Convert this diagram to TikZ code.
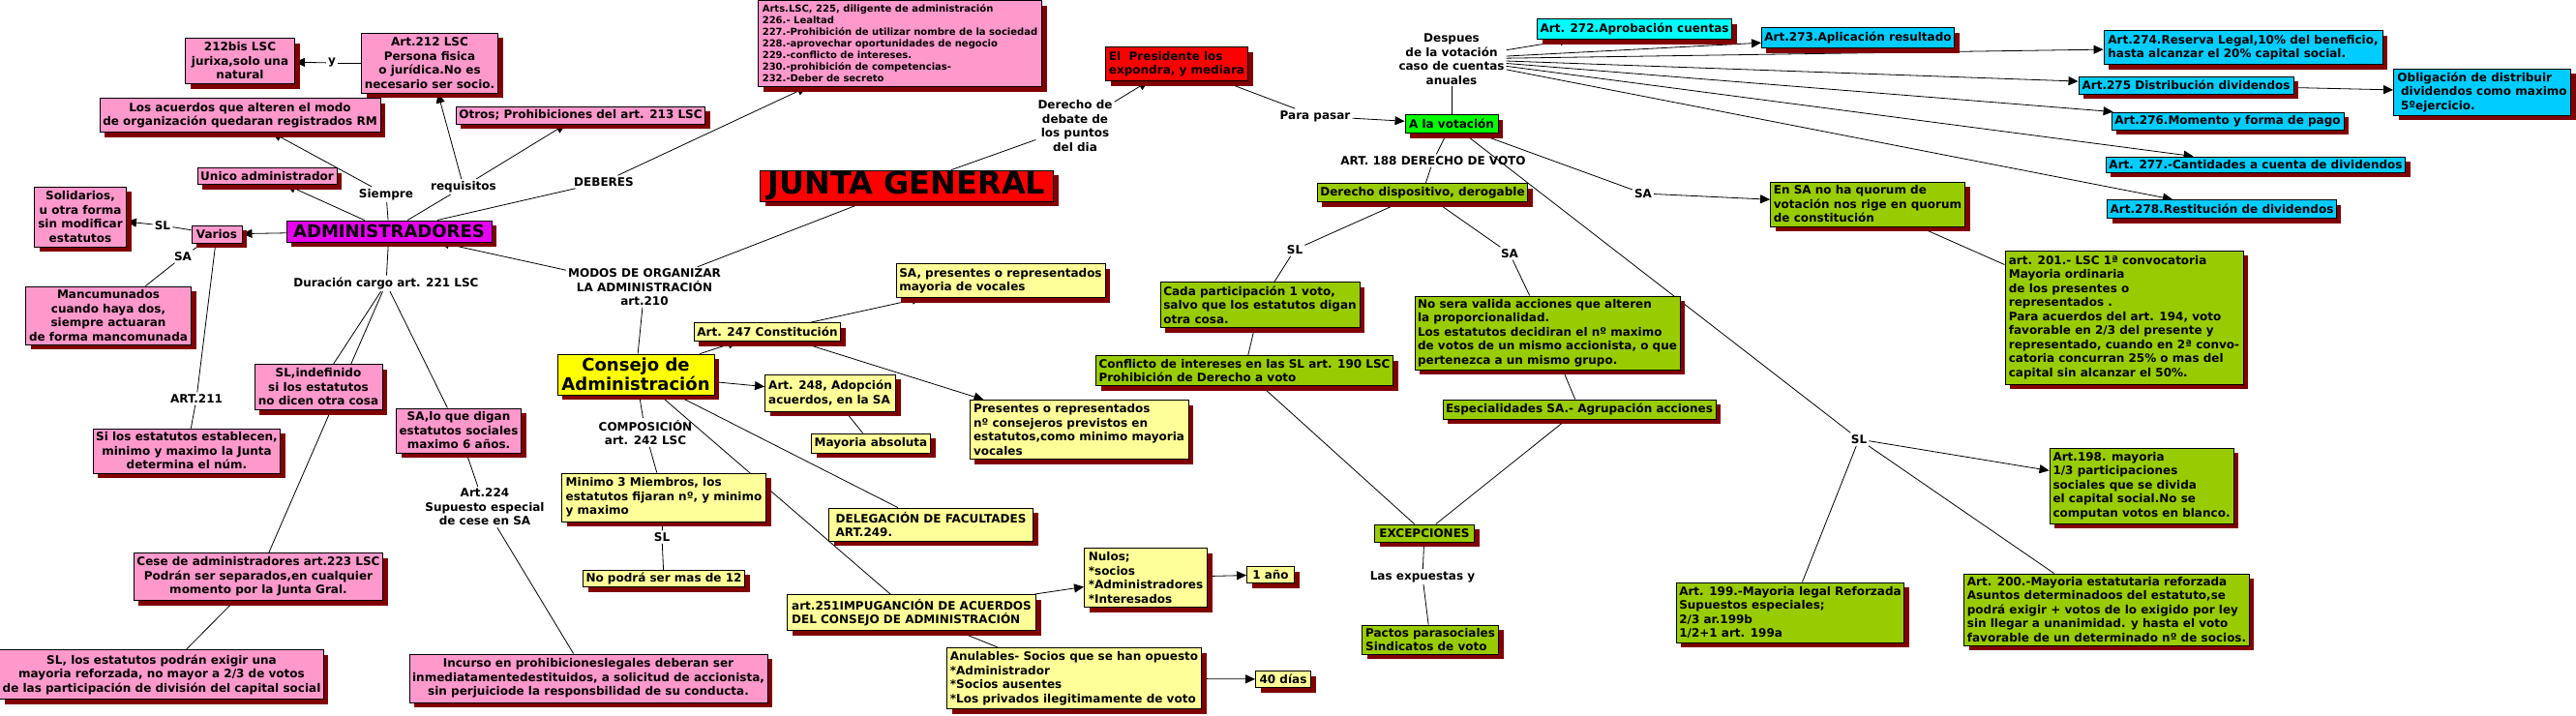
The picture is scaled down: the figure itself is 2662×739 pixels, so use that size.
\documentclass[tikz,border=0pt]{standalone}
\usepackage{fontspec}
\setmainfont{DejaVu Sans}
\usetikzlibrary{arrows.meta,shadows,backgrounds}
\definecolor{cpink}{HTML}{FF99CC}
\definecolor{cmag}{HTML}{E600F0}
\definecolor{cred}{HTML}{FF0000}
\definecolor{cyellow}{HTML}{FFFF00}
\definecolor{clyellow}{HTML}{FFFF99}
\definecolor{cgreen}{HTML}{99CC00}
\definecolor{cbgreen}{HTML}{00FF00}
\definecolor{ccyan}{HTML}{00FFFF}
\definecolor{cblue}{HTML}{00CCFF}
\definecolor{cshadow}{HTML}{800000}
\tikzset{
  base/.style={font=\bfseries\fontsize{12}{14.5}\selectfont, text=black},
  box/.style={base, draw=black, line width=0.9pt, inner xsep=3pt, inner ysep=2.5pt,
    drop shadow={shadow xshift=5pt, shadow yshift=-5pt, fill=cshadow, opacity=1}},
  pinkbox/.style={box, fill=cpink, align=center},
  ylbox/.style={box, fill=clyellow, align=left},
  grbox/.style={box, fill=cgreen, align=left},
  blbox/.style={box, fill=cblue, align=left},
  lab/.style={base, align=center, inner sep=2pt},
  con/.style={draw=black, line width=0.8pt},
  arr/.style={con, -{Triangle[length=10pt,width=9pt]}},
}
\begin{document}
\begin{tikzpicture}[x=1pt,y=-1pt]
\useasboundingbox (0,0) rectangle (2662,739);
\begin{scope}[on background layer]
\fill[white] (0,0) rectangle (2662,739);
\end{scope}

% ---------- linking phrases ----------
\node[lab] (ly) at (343,65) {y};
\node[lab] (lsiempre) at (399,201) {Siempre};
\node[lab] (lreq) at (479,193) {requisitos};
\node[lab] (ldeb) at (624,188) {DEBERES};
\node[lab] (lsl1) at (168,233) {SL};
\node[lab] (lsa1) at (189,265) {SA};
\node[lab] (l211) at (203,412) {ART.211};
\node[lab] (ldur) at (399,293) {Duración cargo art. 221 LSC};
\node[lab] (l224) at (501,524) {Art.224\\Supuesto especial\\de cese en SA};
\node[lab] (lmodos) at (666,297) {MODOS DE ORGANIZAR\\LA ADMINISTRACIÓN\\art.210};
\node[lab] (lcomp) at (667,447) {COMPOSICIÓN\\art. 242 LSC};
\node[lab] (lsl2) at (684,555) {SL};
\node[lab] (lder) at (1111,130) {Derecho de\\debate de\\los puntos\\del dia};
\node[lab] (lpara) at (1359,120) {Para pasar};
\node[lab] (ldesp) at (1500,61) {Despues\\de la votación\\caso de cuentas\\anuales};
\node[lab] (l188) at (1481,166) {ART. 188 DERECHO DE VOTO};
\node[lab] (lsa3) at (1698,200) {SA};
\node[lab] (lsl3) at (1338,258) {SL};
\node[lab] (lsa4) at (1560,262) {SA};
\node[lab] (lsl4) at (1921,454) {SL};
\node[lab] (lexp) at (1470,596) {Las expuestas y};

% ---------- pink (administradores) ----------
\node[pinkbox, minimum width=113pt, minimum height=47pt] (bis212) at (248,63) {212bis LSC\\jurixa,solo una\\natural};
\node[pinkbox, minimum width=141pt, minimum height=62pt] (art212) at (444,65) {Art.212 LSC\\Persona fisica\\o jurídica.No es\\necesario ser socio.};
\node[pinkbox, minimum width=290pt, minimum height=35pt] (acuerdos) at (248,119) {Los acuerdos que alteren el modo\\de organización quedaran registrados RM};
\node[pinkbox, minimum width=257pt, minimum height=18pt] (otros) at (600,119) {Otros; Prohibiciones del art. 213 LSC};
\node[pinkbox, minimum width=144pt, minimum height=17pt] (unico) at (276,182) {Unico administrador};
\node[pinkbox, minimum width=95pt, minimum height=62pt] (solid) at (83,224) {Solidarios,\\u otra forma\\sin modificar\\estatutos};
\node[pinkbox, minimum width=52pt, minimum height=18pt] (varios) at (224,242) {Varios};
\node[box, fill=cmag, font=\bfseries\fontsize{18}{20}\selectfont, inner ysep=1pt, minimum width=212pt, minimum height=22pt] (admin) at (402,239) {ADMINISTRADORES};
\node[pinkbox, align=left, font=\bfseries\fontsize{10}{12}\selectfont, minimum width=293pt, minimum height=89pt] (artslsc) at (930,45) {Arts.LSC, 225, diligente de administración\\226.- Lealtad\\227.-Prohibición de utilizar nombre de la sociedad\\228.-aprovechar oportunidades de negocio\\229.-conflicto de intereses.\\230.-prohibición de competencias-\\232.-Deber de secreto};
\node[pinkbox, minimum width=171pt, minimum height=60pt] (mancu) at (112,326) {Mancumunados\\cuando haya dos,\\siempre actuaran\\de forma mancomunada};
\node[pinkbox, minimum width=193pt, minimum height=46pt] (silos) at (193,466) {Si los estatutos establecen,\\minimo y maximo la Junta\\determina el núm.};
\node[pinkbox, minimum width=132pt, minimum height=47pt] (slindef) at (329,400) {SL,indefinido\\si los estatutos\\no dicen otra cosa};
\node[pinkbox, minimum width=129pt, minimum height=46pt] (salo) at (474,445) {SA,lo que digan\\estatutos sociales\\maximo 6 años.};
\node[pinkbox, minimum width=256pt, minimum height=49pt] (cese) at (267,596) {Cese de administradores art.223 LSC\\Podrán ser separados,en cualquier\\momento por la Junta Gral.};
\node[pinkbox, minimum width=332pt, minimum height=51pt] (slest) at (167,697) {SL, los estatutos podrán exigir una\\mayoria reforzada, no mayor a 2/3 de votos\\de las participación de división del capital social};
\node[pinkbox, minimum width=370pt, minimum height=50pt] (incurso) at (608,701) {Incurso en prohibicioneslegales deberan ser\\inmediatamentedestituidos, a solicitud de accionista,\\sin perjuiciode la responsbilidad de su conducta.};

% ---------- red ----------
\node[box, fill=cred, align=left, minimum width=147pt, minimum height=35pt] (presid) at (1216,66) {El\ \ Presidente los\\expondra, y mediara};
\node[box, fill=cred, font=\bfseries\fontsize{32}{34}\selectfont, inner ysep=0pt, minimum width=303pt, minimum height=32pt] (junta) at (937,192) {JUNTA GENERAL};

% ---------- votacion / cuentas ----------
\node[box, fill=cbgreen, minimum width=96pt, minimum height=19pt] (votacion) at (1500,128) {A la votación};
\node[box, fill=ccyan, minimum width=201pt, minimum height=21pt] (a272) at (1689,30) {Art. 272.Aprobación cuentas};
\node[blbox, minimum width=198pt, minimum height=21pt] (a273) at (1920,39) {Art.273.Aplicación resultado};
\node[blbox, minimum width=288pt, minimum height=35pt] (a274) at (2318,49) {Art.274.Reserva Legal,10\% del beneficio,\\hasta alcanzar el 20\% capital social.};
\node[blbox, minimum width=222pt, minimum height=18pt] (a275) at (2259,88) {Art.275 Distribución dividendos};
\node[blbox, minimum width=183pt, minimum height=48pt] (oblig) at (2565,95) {Obligación de distribuir\\\hspace*{0.3em}dividendos como maximo\\\hspace*{0.3em}5ºejercicio.};
\node[blbox, minimum width=240pt, minimum height=18pt] (a276) at (2302,125) {Art.276.Momento y forma de pago};
\node[blbox, minimum width=308pt, minimum height=16pt] (a277) at (2331,170) {Art. 277.-Cantidades a cuenta de dividendos};
\node[blbox, minimum width=236pt, minimum height=19pt] (a278) at (2296,216) {Art.278.Restitución de dividendos};

% ---------- green ----------
\node[grbox, minimum width=215pt, minimum height=19pt] (dispo) at (1470,199) {Derecho dispositivo, derogable};
\node[grbox, minimum width=201pt, minimum height=46pt] (ensa) at (1930,211) {En SA no ha quorum de\\votación nos rige en quorum\\de constitución};
\node[grbox, minimum width=246pt, minimum height=138pt] (a201) at (2195,328) {art. 201.- LSC 1ª convocatoria\\Mayoria ordinaria\\de los presentes o\\representados .\\Para acuerdos del art. 194, voto\\favorable en 2/3 del presente y\\representado, cuando en 2ª convo-\\catoria concurran 25\% o mas del\\capital sin alcanzar el 50\%.};
\node[grbox, minimum width=190pt, minimum height=78pt] (a198) at (2213,502) {Art.198. mayoria\\1/3 participaciones\\sociales que se divida\\el capital social.No se\\computan votos en blanco.};
\node[grbox, minimum width=235pt, minimum height=62pt] (a199) at (1850,633) {Art. 199.-Mayoria legal Reforzada\\Supuestos especiales;\\2/3 ar.199b\\1/2+1 art. 199a};
\node[grbox, minimum width=293pt, minimum height=74pt] (a200) at (2177,630) {Art. 200.-Mayoria estatutaria reforzada\\Asuntos determinadoos del estatuto,se\\podrá exigir + votos de lo exigido por ley\\sin llegar a unanimidad. y hasta el voto\\favorable de un determinado nº de socios.};
\node[grbox, minimum width=206pt, minimum height=47pt] (cada) at (1302,315) {Cada participación 1 voto,\\salvo que los estatutos digan\\otra cosa.};
\node[grbox, minimum width=306pt, minimum height=31pt] (conflicto) at (1286,383) {Conflicto de intereses en las SL art. 190 LSC\\Prohibición de Derecho a voto};
\node[grbox, minimum width=274pt, minimum height=76pt] (nosera) at (1599,344) {No sera valida acciones que alteren\\la proporcionalidad.\\Los estatutos decidiran el nº maximo\\de votos de un mismo accionista, o que\\pertenezca a un mismo grupo.};
\node[grbox, minimum width=282pt, minimum height=20pt] (especial) at (1632,423) {Especialidades SA.- Agrupación acciones};
\node[grbox, minimum width=103pt, minimum height=18pt] (excep) at (1472,551) {EXCEPCIONES};
\node[grbox, minimum width=141pt, minimum height=30pt] (pactos) at (1478,661) {Pactos parasociales\\Sindicatos de voto};

% ---------- yellow (consejo) ----------
\node[box, fill=cyellow, font=\bfseries\fontsize{18}{20}\selectfont, align=center, minimum width=162pt, minimum height=42pt] (consejo) at (657,387) {Consejo de\\Administración};
\node[ylbox, minimum width=151pt, minimum height=19pt] (a247) at (793,343) {Art. 247 Constitución};
\node[ylbox, minimum width=216pt, minimum height=35pt] (sapres) at (1034,290) {SA, presentes o representados\\mayoria de vocales};
\node[ylbox, minimum width=226pt, minimum height=61pt] (presentes) at (1115,444) {Presentes o representados\\nº consejeros previstos en\\estatutos,como minimo mayoria\\vocales};
\node[ylbox, minimum width=135pt, minimum height=38pt] (a248) at (858,406) {Art. 248, Adopción\\acuerdos, en la SA};
\node[ylbox, minimum width=123pt, minimum height=20pt] (mayabs) at (900,458) {Mayoria absoluta};
\node[ylbox, minimum width=211pt, minimum height=50pt] (minimo) at (686,514) {Minimo 3 Miembros, los\\estatutos fijaran nº, y minimo\\y maximo};
\node[ylbox, minimum width=166pt, minimum height=17pt] (nopodra) at (686,598) {No podrá ser mas de 12};
\node[ylbox, minimum width=211pt, minimum height=34pt] (deleg) at (962,542) {DELEGACIÓN DE FACULTADES\\ART.249.};
\node[ylbox, minimum width=257pt, minimum height=37pt] (a251) at (942,633) {art.251IMPUGANCIÓN DE ACUERDOS\\DEL CONSEJO DE ADMINISTRACIÓN};
\node[ylbox, minimum width=127pt, minimum height=61pt] (nulos) at (1184,597) {Nulos;\\*socios\\*Administradores\\*Interesados};
\node[ylbox, minimum width=49pt, minimum height=17pt] (anio) at (1313,594) {1 año};
\node[ylbox, minimum width=263pt, minimum height=63pt] (anul) at (1110,701) {Anulables- Socios que se han opuesto\\*Administrador\\*Socios ausentes\\*Los privados ilegitimamente de voto};
\node[ylbox, minimum width=57pt, minimum height=17pt] (dias) at (1326,702) {40 días};

% ---------- connectors ----------
\begin{scope}[on background layer]
\draw[con] (art212) -- (ly); \draw[arr] (ly) -- (bis212);
\draw[con] (admin) -- (lsiempre); \draw[arr] (lsiempre) -- (acuerdos);
\draw[arr] (admin) -- (unico);
\draw[con] (admin) -- (lreq); \draw[arr] (lreq) -- (art212); \draw[arr] (lreq) -- (otros);
\draw[con] (admin) -- (ldeb); \draw[arr] (ldeb) -- (artslsc);
\draw[arr] (admin) -- (varios);
\draw[con] (varios) -- (lsl1); \draw[arr] (lsl1) -- (solid);
\draw[con] (varios) -- (lsa1); \draw[con] (lsa1) -- (mancu);
\draw[con] (varios) -- (l211); \draw[con] (l211) -- (silos);
\draw[con] (admin) -- (ldur);
\draw[con] (ldur) -- (slindef); \draw[con] (ldur) -- (cese); \draw[con] (ldur) -- (salo);
\draw[con] (cese) -- (slest);
\draw[con] (salo) -- (l224); \draw[con] (l224) -- (incurso);
\draw[con] (junta) -- (lmodos); \draw[arr] (lmodos) -- (admin); \draw[con] (lmodos) -- (consejo);
\draw[con] (consejo) -- (lcomp); \draw[con] (lcomp) -- (minimo);
\draw[con] (minimo) -- (lsl2); \draw[con] (lsl2) -- (nopodra);
\draw[arr] (consejo) -- (a247); \draw[arr] (a247) -- (sapres); \draw[arr] (a247) -- (presentes);
\draw[arr] (consejo) -- (a248); \draw[con] (a248) -- (mayabs);
\draw[con] (consejo) -- (deleg); \draw[con] (consejo) -- (a251);
\draw[arr] (a251) -- (nulos); \draw[con] (a251) -- (anul);
\draw[arr] (nulos) -- (anio); \draw[arr] (anul) -- (dias);
\draw[con] (junta) -- (lder); \draw[arr] (lder) -- (presid);
\draw[con] (presid) -- (lpara); \draw[arr] (lpara) -- (votacion);
\draw[con] (votacion) -- (ldesp);
\foreach \t in {a272,a273,a274,a275,a276,a277,a278} {\draw[arr] (ldesp) -- (\t);}
\draw[arr] (a275) -- (oblig);
\draw[con] (votacion) -- (l188); \draw[con] (l188) -- (dispo);
\draw[con] (votacion) -- (lsa3); \draw[arr] (lsa3) -- (ensa);
\draw[con] (ensa) -- (a201);
\draw[con] (votacion) -- (lsl4);
\draw[arr] (lsl4) -- (a198); \draw[con] (lsl4) -- (a199); \draw[con] (lsl4) -- (a200);
\draw[con] (dispo) -- (lsl3); \draw[con] (lsl3) -- (cada); \draw[con] (cada) -- (conflicto);
\draw[con] (dispo) -- (lsa4); \draw[con] (lsa4) -- (nosera); \draw[con] (nosera) -- (especial);
\draw[con] (conflicto) -- (excep); \draw[con] (especial) -- (excep);
\draw[con] (excep) -- (lexp); \draw[con] (lexp) -- (pactos);
\end{scope}
\end{tikzpicture}
\end{document}
